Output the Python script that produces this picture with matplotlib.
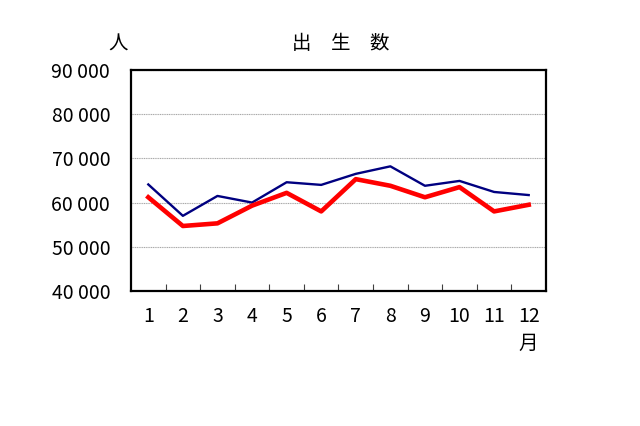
import numpy as np
import matplotlib
matplotlib.use("Agg")
import matplotlib.pyplot as plt
from matplotlib.ticker import FuncFormatter, MultipleLocator

plt.rcParams['font.family'] = ['Noto Sans CJK JP', 'DejaVu Sans']

months = [str(m) for m in range(1, 13)]
births_prev = [64100, 57000, 61500, 60000, 64600, 64000, 66500, 68200, 63800, 64900, 62400, 61700]
births_curr = [61200, 54700, 55300, 59300, 62200, 58000, 65300, 63800, 61200, 63500, 58000, 59500]

fig = plt.figure(figsize=(6.4, 4.26), dpi=100)
ax = fig.add_axes([0.2047, 0.317, 0.6484, 0.5187])

x = np.arange(len(months))
ax.plot(x, births_prev, color='#000080', lw=1.7, zorder=3)
ax.plot(x, births_curr, color='#ff0000', lw=3.3, zorder=4)

ax.set_xlim(-0.5, len(months) - 0.5)
ax.set_ylim(40000, 90000)
ax.yaxis.set_major_locator(MultipleLocator(10000))
ax.yaxis.set_major_formatter(FuncFormatter(lambda v, p: f"{int(v):,}".replace(",", " ")))
ax.grid(axis='y', color='#a8a8a8', lw=0.8, ls=(0, (1, 0.6)))

ax.set_xticks(x)
ax.set_xticklabels(months)
ax.set_xticks(np.arange(0.5, len(months) - 1, 1), minor=True)
ax.tick_params(axis='x', which='major', length=0, pad=11, labelsize=14)
ax.tick_params(axis='x', which='minor', direction='in', length=5, width=0.8, color='#404040')
ax.tick_params(axis='y', length=0, pad=15, labelsize=14)
for s in ax.spines.values():
    s.set_linewidth(1.6)

fig.text(0.533, 0.897, "出　生　数", ha='center', va='center', fontsize=14)
fig.text(0.184, 0.897, "人", ha='center', va='center', fontsize=14)
fig.text(0.825, 0.195, "月", ha='center', va='center', fontsize=14)

fig.savefig("out.png", dpi=100)
